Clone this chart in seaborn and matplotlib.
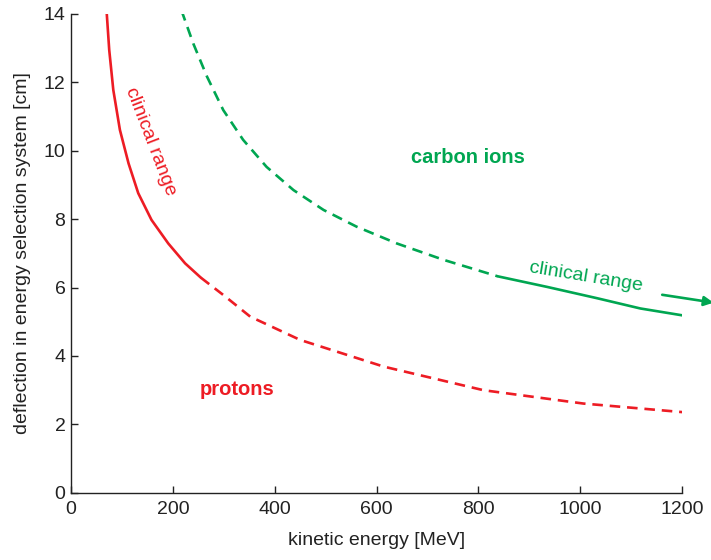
import matplotlib
matplotlib.use("Agg")
import matplotlib.pyplot as plt
import seaborn as sns
import pandas as pd

# ---- data ----
proton_clin_E = [70, 75, 83, 96, 113, 132, 158, 191, 224, 255]
proton_clin_d = [14.05, 12.95, 11.78, 10.61, 9.63, 8.76, 7.98, 7.29, 6.71, 6.29]
proton_ext_E = [255, 302, 352, 450, 614, 810, 1006, 1200]
proton_ext_d = [6.29, 5.75, 5.15, 4.47, 3.69, 3.00, 2.61, 2.36]

carbon_ext_E = [217, 240, 267, 299, 338, 384, 437, 496, 561, 640, 732, 838]
carbon_ext_d = [14.1, 13.14, 12.17, 11.19, 10.32, 9.53, 8.85, 8.27, 7.78, 7.29, 6.81, 6.33]
carbon_clin_E = [838, 935, 1033, 1118, 1200]
carbon_clin_d = [6.33, 6.02, 5.69, 5.39, 5.19]

x_ticks = [0, 200, 400, 600, 800, 1000, 1200]
y_ticks = [0, 2, 4, 6, 8, 10, 12, 14]

RED = "#ED1C24"
GREEN = "#00A651"

sns.set_style("ticks")
plt.rcParams["font.family"] = ["Liberation Sans", "DejaVu Sans"]

fig = plt.figure(figsize=(7.11, 5.60), dpi=100)
ax = fig.add_axes([0.0999, 0.120, 0.8594, 0.855])

lw = 1.9
dash = (4.0, 2.6)

sns.lineplot(x=proton_clin_E, y=proton_clin_d, color=RED, lw=lw, ax=ax, sort=False)
sns.lineplot(x=proton_ext_E, y=proton_ext_d, color=RED, lw=lw, ax=ax, sort=False)
ax.lines[-1].set_dashes(dash)
sns.lineplot(x=carbon_ext_E, y=carbon_ext_d, color=GREEN, lw=lw, ax=ax, sort=False)
ax.lines[-1].set_dashes(dash)
sns.lineplot(x=carbon_clin_E, y=carbon_clin_d, color=GREEN, lw=lw, ax=ax, sort=False)

ax.set_xlim(0, 1200)
ax.set_ylim(0, 14)
ax.set_xticks(x_ticks)
ax.set_yticks(y_ticks)
ax.set_xticklabels([str(v) for v in x_ticks])
ax.set_yticklabels([str(v) for v in y_ticks])

for s in ["top", "right"]:
    ax.spines[s].set_visible(False)
for s in ["left", "bottom"]:
    ax.spines[s].set_color("#222222")
    ax.spines[s].set_linewidth(1.0)

ax.tick_params(axis="both", direction="in", length=5, width=1.0, color="#222222",
               labelsize=14, labelcolor="#222222")
ax.tick_params(axis="x", pad=6)
ax.tick_params(axis="y", pad=4)

ax.set_xlabel("kinetic energy [MeV]", fontsize=14, color="#222222", labelpad=10)
ax.set_ylabel("deflection in energy selection system [cm]", fontsize=14,
              color="#222222", labelpad=9)

# annotations
ax.text(779, 9.64, "carbon ions", color=GREEN, fontsize=14.5, fontweight="bold",
        ha="center", va="baseline")
ax.text(327, 2.86, "protons", color=RED, fontsize=14.5, fontweight="bold",
        ha="center", va="baseline")
ax.text(156, 10.27, "clinical range", color=RED, fontsize=14,
        rotation=-69, ha="center", va="center", rotation_mode="anchor")
ax.text(1012, 6.31, "clinical range", color=GREEN, fontsize=14,
        rotation=-9.4, ha="center", va="center", rotation_mode="anchor")

ax.annotate("", xy=(1262, 5.56), xytext=(1161, 5.79), xycoords="data",
            arrowprops=dict(arrowstyle="-|>", color=GREEN, lw=lw,
                            mutation_scale=14, shrinkA=0, shrinkB=0),
            annotation_clip=False)

fig.savefig("out.png", dpi=100)
